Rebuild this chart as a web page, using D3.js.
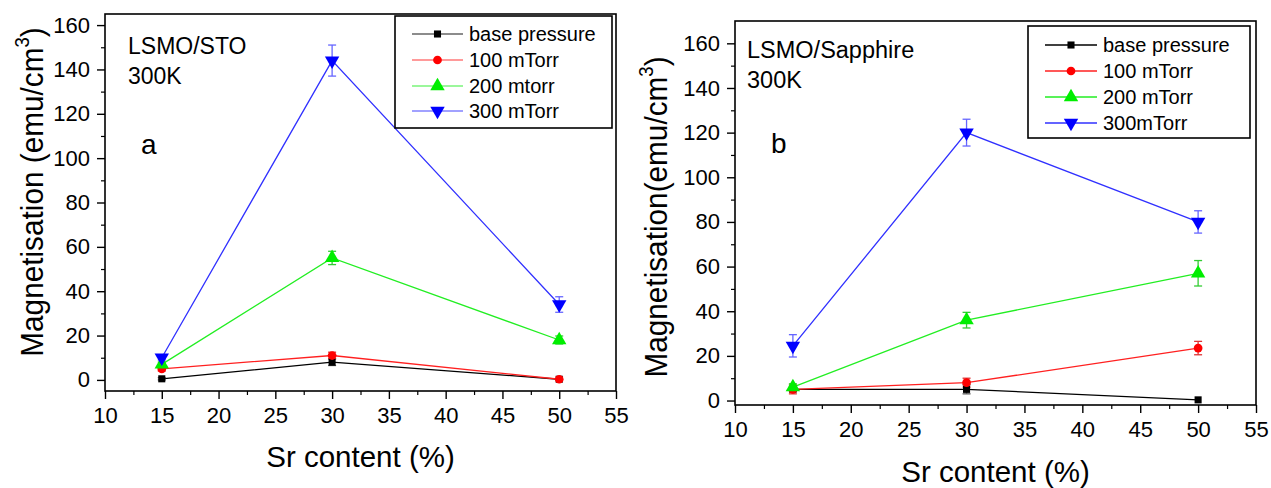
<!DOCTYPE html>
<html>
<head>
<meta charset="utf-8">
<script src="https://cdn.jsdelivr.net/npm/d3@7/dist/d3.min.js"></script>
<style>
  html, body { margin: 0; padding: 0; background: #fff; }
  svg { display: block; }
  text { font-family: "Liberation Sans", Arial, sans-serif; fill: #000; }
</style>
</head>
<body>
<svg id="chart" width="1271" height="488"></svg>
<script>
// Sr content of the films (%)
const srContent = [15, 30, 50];
const xTicks = [10, 15, 20, 25, 30, 35, 40, 45, 50, 55];
const yTicks = [0, 20, 40, 60, 80, 100, 120, 140, 160];

// LSMO on STO, magnetisation at 300 K (emu/cm^3) and error bars
const stoNames = ["base pressure", "100 mTorr", "200 mtorr", "300 mTorr"];
const stoBase = [0.5, 8, 0.3];
const stoBaseErr = [0.5, 1.5, 0.3];
const sto100 = [5, 11, 0.3];
const sto100Err = [1, 1.5, 0.3];
const sto200 = [7, 55, 18];
const sto200Err = [1, 3, 1.8];
const sto300 = [10, 144, 34];
const sto300Err = [1, 7, 3.5];

// LSMO on sapphire, magnetisation at 300 K (emu/cm^3) and error bars
const sapNames = ["base pressure", "100 mTorr", "200 mTorr", "300mTorr"];
const sapBase = [5, 5, 0.3];
const sapBaseErr = [1, 2, 0.3];
const sap100 = [5, 8, 23.5];
const sap100Err = [2, 2, 3];
const sap200 = [6, 36, 57];
const sap200Err = [1.5, 3.5, 5.7];
const sap300 = [24.5, 120, 80];
const sap300Err = [5, 6, 5];

const colors = ["#000000", "#ff0000", "#00ee00", "#0000ff"];
const lineColors = ["#000000", "#ff2020", "#22ee22", "#3030ff"];
const errColors = ["#555555", "#dd3333", "#33cc33", "#6666ff"];
const shapes = [d3.symbolSquare, d3.symbolCircle, d3.symbolTriangle, "down"];
const sizes = [50, 60, 90, 90];

const svg = d3.select("#chart");

function marker(g, i, x, y) {
  const sym = shapes[i] === "down" ? d3.symbolTriangle : shapes[i];
  const p = g.append("path")
    .attr("d", d3.symbol().type(sym).size(sizes[i])())
    .attr("fill", colors[i]);
  if (shapes[i] === "down") p.attr("transform", `translate(${x},${y}) rotate(180)`);
  else p.attr("transform", `translate(${x},${y})`);
}

function panel(cfg) {
  const g = svg.append("g");
  const x = d3.scaleLinear().domain([10, 55]).range([cfg.left, cfg.right]);
  const y = d3.scaleLinear().domain(cfg.yDomain).range([cfg.bottom, cfg.top]);

  // frame
  g.append("rect")
    .attr("x", cfg.left).attr("y", cfg.top)
    .attr("width", cfg.right - cfg.left).attr("height", cfg.bottom - cfg.top)
    .attr("fill", "none").attr("stroke", "#000").attr("stroke-width", 1.6);

  // x axis: major + minor ticks, outward
  const xAxis = d3.axisBottom(x).tickValues(xTicks).tickSize(8).tickPadding(8)
    .tickFormat(d3.format("d"));
  const xa = g.append("g").attr("transform", `translate(0,${cfg.bottom})`).call(xAxis);
  xa.select(".domain").remove();
  xa.selectAll("line").attr("stroke-width", 1.4);
  xa.selectAll("text").attr("font-size", 22).attr("font-family", "Liberation Sans, Arial, sans-serif");
  const xMinor = d3.axisBottom(x).tickValues(d3.range(12.5, 55, 5)).tickSize(4).tickFormat("");
  const xm = g.append("g").attr("transform", `translate(0,${cfg.bottom})`).call(xMinor);
  xm.select(".domain").remove();
  xm.selectAll("line").attr("stroke-width", 1.2);

  // y axis
  const yAxis = d3.axisLeft(y).tickValues(yTicks).tickSize(8).tickPadding(7)
    .tickFormat(d3.format("d"));
  const ya = g.append("g").attr("transform", `translate(${cfg.left},0)`).call(yAxis);
  ya.select(".domain").remove();
  ya.selectAll("line").attr("stroke-width", 1.4);
  ya.selectAll("text").attr("font-size", 22).attr("font-family", "Liberation Sans, Arial, sans-serif");
  const yMinor = d3.axisLeft(y).tickValues(d3.range(10, 170, 20)).tickSize(4).tickFormat("");
  const ym = g.append("g").attr("transform", `translate(${cfg.left},0)`).call(yMinor);
  ym.select(".domain").remove();
  ym.selectAll("line").attr("stroke-width", 1.2);

  // axis titles
  g.append("text")
    .attr("x", (cfg.left + cfg.right) / 2).attr("y", cfg.xTitleY)
    .attr("text-anchor", "middle").attr("font-size", 29.5)
    .text("Sr content (%)");
  const yt = g.append("text")
    .attr("transform", `translate(${cfg.yTitleX},${cfg.yTitleMid}) rotate(-90) scale(0.93,1)`)
    .attr("text-anchor", "middle").attr("font-size", 32);
  yt.append("tspan").text(cfg.yTitle);
  yt.append("tspan").attr("font-size", 20).attr("dy", -14).text("3");
  yt.append("tspan").attr("dy", 14).text(")");

  // series
  const line = d3.line().x(d => x(d[0])).y(d => y(d[1]));
  cfg.series.forEach((s, i) => {
    const pts = srContent.map((c, k) => [c, s.v[k], s.e[k]]);
    g.append("path").datum(pts).attr("d", line)
      .attr("fill", "none").attr("stroke", lineColors[i]).attr("stroke-width", 1.3);
  });
  cfg.series.forEach((s, i) => {
    srContent.forEach((c, k) => {
      const cx = x(c), v = s.v[k], e = s.e[k];
      const y0 = y(v - e), y1 = y(v + e);
      if (y0 - y1 > 2) {
        g.append("line").attr("x1", cx).attr("x2", cx).attr("y1", y0).attr("y2", y1)
          .attr("stroke", errColors[i]).attr("stroke-width", 1.3);
        [y0, y1].forEach(yy => g.append("line")
          .attr("x1", cx - 4).attr("x2", cx + 4).attr("y1", yy).attr("y2", yy)
          .attr("stroke", errColors[i]).attr("stroke-width", 1.3));
      }
    });
  });
  cfg.series.forEach((s, i) => {
    srContent.forEach((c, k) => marker(g, i, x(c), y(s.v[k])));
  });

  // annotations
  cfg.notes.forEach(n => g.append("text").attr("x", n.x).attr("y", n.y)
    .attr("font-size", n.size).text(n.t));

  // legend
  const L = cfg.legend;
  g.append("rect").attr("x", L.x0).attr("y", L.y0)
    .attr("width", L.x1 - L.x0).attr("height", L.y1 - L.y0)
    .attr("fill", "#fff").attr("stroke", "#000").attr("stroke-width", 1.6);
  cfg.names.forEach((name, i) => {
    const yy = L.rowY[i];
    g.append("line").attr("x1", L.lx0).attr("x2", L.lx1).attr("y1", yy).attr("y2", yy)
      .attr("stroke", lineColors[i]).attr("stroke-width", 1.4).attr("opacity", L.lineOpacity);
    marker(g, i, (L.lx0 + L.lx1) / 2, yy);
    g.append("text").attr("x", L.tx).attr("y", yy + 7).attr("font-size", 20).text(name);
  });
}

panel({
  left: 105, right: 616, top: 14, bottom: 391, yDomain: [-5, 165],
  xTitleY: 467, yTitleX: 43, yTitleMid: 192, yTitle: "Magnetisation (emu/cm",
  series: [
    { v: stoBase, e: stoBaseErr }, { v: sto100, e: sto100Err },
    { v: sto200, e: sto200Err }, { v: sto300, e: sto300Err }
  ],
  names: stoNames,
  notes: [
    { x: 128, y: 54, t: "LSMO/STO", size: 23 },
    { x: 128, y: 84, t: "300K", size: 23 },
    { x: 141, y: 154, t: "a", size: 28 }
  ],
  legend: { x0: 395, y0: 16, x1: 612, y1: 128, rowY: [34, 60, 86, 111],
            lx0: 412, lx1: 463, tx: 469, lineOpacity: 0.6 }
});

panel({
  left: 735, right: 1256, top: 21, bottom: 405, yDomain: [-2, 170],
  xTitleY: 482, yTitleX: 667, yTitleMid: 217, yTitle: "Magnetisation(emu/cm",
  series: [
    { v: sapBase, e: sapBaseErr }, { v: sap100, e: sap100Err },
    { v: sap200, e: sap200Err }, { v: sap300, e: sap300Err }
  ],
  names: sapNames,
  notes: [
    { x: 747, y: 58, t: "LSMO/Sapphire", size: 23.5 },
    { x: 747, y: 88, t: "300K", size: 23.5 },
    { x: 771, y: 153, t: "b", size: 28 }
  ],
  legend: { x0: 1028, y0: 26, x1: 1250, y1: 138, rowY: [45, 71, 97, 123],
            lx0: 1045, lx1: 1097, tx: 1103, lineOpacity: 1 }
});
</script>
</body>
</html>
